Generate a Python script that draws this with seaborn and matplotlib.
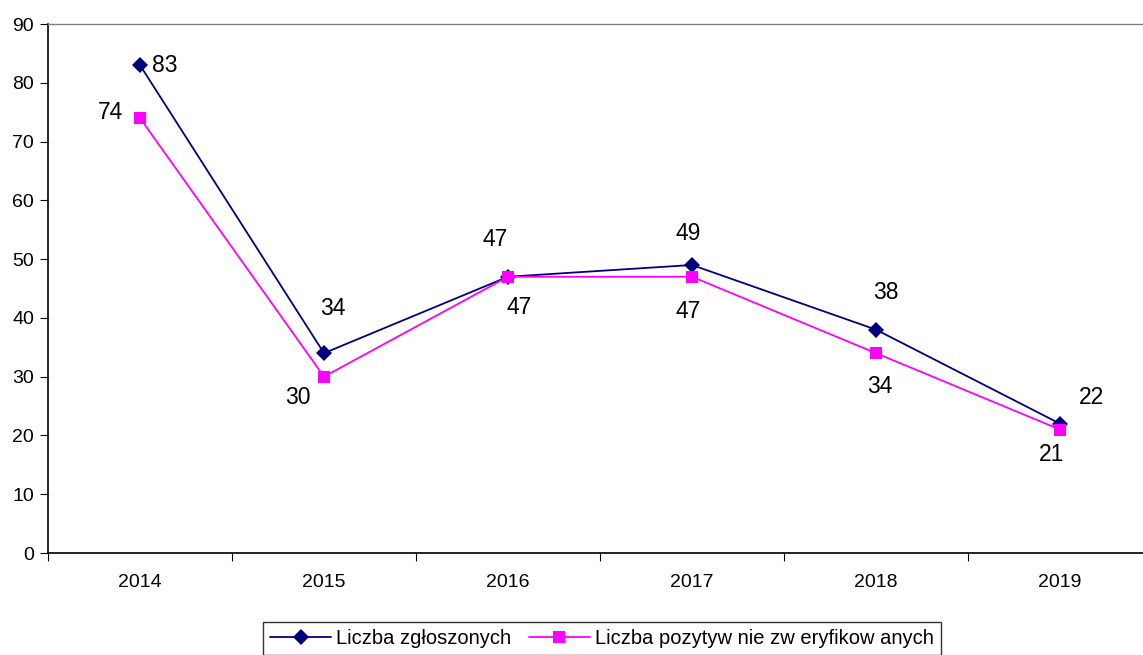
import matplotlib
matplotlib.use("Agg")
import matplotlib.pyplot as plt
import seaborn as sns
import pandas as pd
from matplotlib.ticker import FixedLocator

years = ["2014", "2015", "2016", "2017", "2018", "2019"]
zgloszone = [83, 34, 47, 49, 38, 22]
pozytywne = [74, 30, 47, 47, 34, 21]
series_names = ["Liczba zgłoszonych", "Liczba pozytyw nie zw eryfikow anych"]

sns.set_style("white")
plt.rcParams["font.family"] = ["Liberation Sans", "DejaVu Sans"]
plt.rcParams["text.color"] = "black"
plt.rcParams["xtick.color"] = "black"
plt.rcParams["ytick.color"] = "black"

fig = plt.figure(figsize=(11.43, 6.55), dpi=100)
ax = fig.add_axes([48 / 1143, (655 - 553) / 655, 1104 / 1143, (553 - 24) / 655])

idx = list(range(len(years)))
df = pd.DataFrame({
    "x": idx * 2,
    "y": zgloszone + pozytywne,
    "series": [series_names[0]] * len(years) + [series_names[1]] * len(years),
})

sns.lineplot(data=df, x="x", y="y", hue="series", style="series",
             palette={series_names[0]: "#000080", series_names[1]: "#FF00FF"},
             markers={series_names[0]: "D", series_names[1]: "s"},
             dashes=False, markersize=8.5, linewidth=1.3,
             markeredgewidth=0, ax=ax, legend=True, sort=False)

# data labels (offsets in points)
off_z = [(18, 0), (6, 32), (8, -22), (-3, 23), (7, 27), (23, 19)]
off_p = [(-21, 4), (-19, -15), (-9, 27), (-3, -25), (3, -24), (-6, -18)]
for i in idx:
    ax.annotate(str(zgloszone[i]), (i, zgloszone[i]), xytext=off_z[i],
                textcoords="offset points", ha="center", va="center", fontsize=16.5,
                color="black")
    ax.annotate(str(pozytywne[i]), (i, pozytywne[i]), xytext=off_p[i],
                textcoords="offset points", ha="center", va="center", fontsize=16.5,
                color="black")

ax.set_xlim(-0.5, 5.5)
ax.set_ylim(0, 90)
ax.set_yticks(range(0, 91, 10))
ax.set_xticks(idx)
ax.set_xticklabels(years)
ax.xaxis.set_minor_locator(FixedLocator([i + 0.5 for i in range(-1, 6)]))
ax.tick_params(axis="x", which="major", length=0, pad=15, labelsize=14, bottom=True)
ax.tick_params(axis="x", which="minor", length=6, width=0.8, color="black",
               direction="out", bottom=True)
ax.tick_params(axis="y", length=6, width=0.8, color="black", direction="out",
               labelsize=14, pad=4, left=True)
ax.set_xlabel("")
ax.set_ylabel("")

for s in ["left", "bottom"]:
    ax.spines[s].set_color("black")
    ax.spines[s].set_linewidth(1.2)
ax.spines["top"].set_color("#808080")
ax.spines["top"].set_linewidth(1.0)
ax.spines["right"].set_visible(False)

handles, labels = ax.get_legend_handles_labels()
ax.get_legend().remove()
for h in handles:
    h.set_markersize(8)
leg = fig.legend(handles, labels, loc="upper center", bbox_to_anchor=(602 / 1143, 33 / 655),
                 ncol=2, frameon=True, fancybox=False, edgecolor="black", fontsize=14.5,
                 handlelength=3.0, handletextpad=0.25, columnspacing=0.9, borderpad=0.35,
                 borderaxespad=0)
leg.get_frame().set_linewidth(1.0)

fig.savefig("out.png", dpi=100)
